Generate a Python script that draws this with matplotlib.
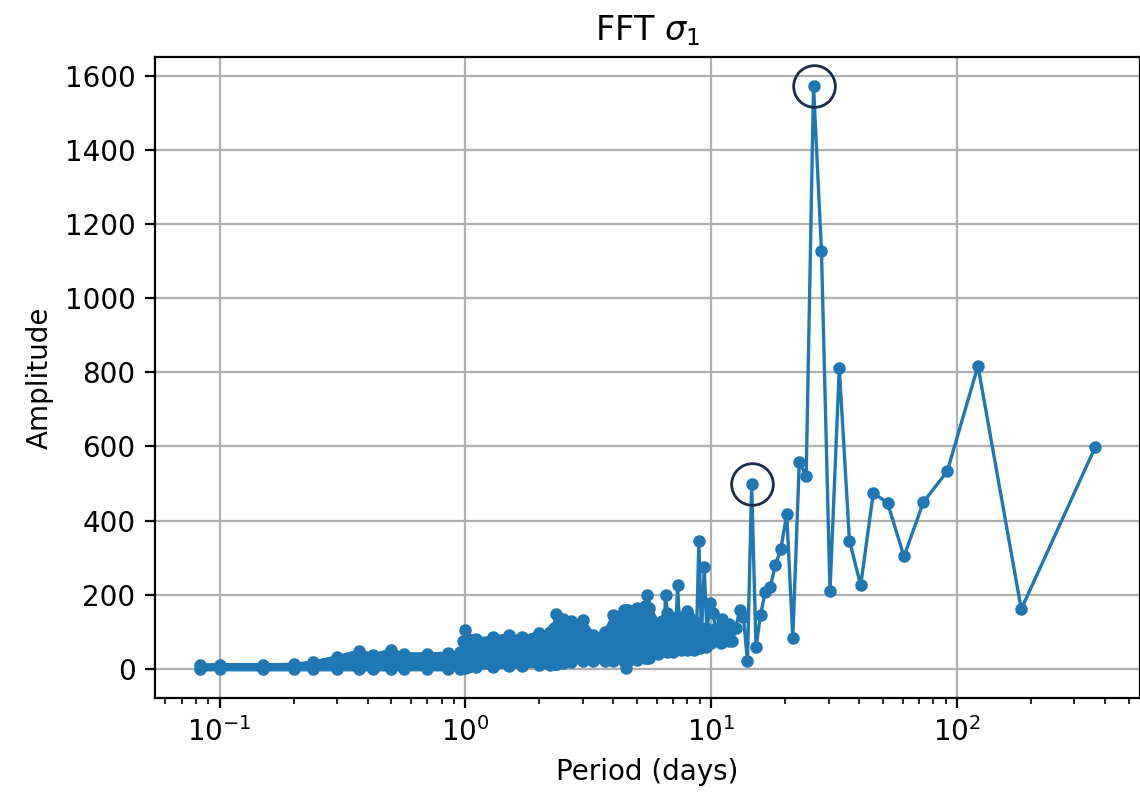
#!/usr/bin/env python3

import numpy as np
import matplotlib.pyplot as plt

# low harmonics of a one-year record: period = 365 / k days
harmonic = np.arange(1, 61)
amp_low_harm = [598, 161, 817, 533, 450, 303, 448, 474, 225, 346,
                812, 209, 1128, 1572, 520, 558, 83, 418, 324, 280,
                222, 208, 146, 58, 498, 21, 140, 158, 110, 74,
                120, 90, 135, 75, 110, 150, 177, 100, 274, 90,
                346, 60, 130, 80, 140, 155, 70, 120, 90, 225,
                100, 60, 140, 95, 150, 198, 80, 130, 60, 110]

band_period = [0.083, 0.1, 0.15, 0.2, 0.24, 0.3, 0.37, 0.42, 0.5, 0.56,
               0.7, 0.85, 0.95, 0.98, 1.0, 1.02, 1.1, 1.3, 1.5, 1.7,
               2.0, 2.2, 2.3, 2.33, 2.36, 2.5, 2.7, 3.0, 3.3, 3.7,
               4.0, 4.4, 4.5, 4.6, 5.0, 5.4, 5.5, 5.6, 6.1, 6.6,
               7.0, 7.5, 8.0, 8.5, 9.0, 9.5, 10.0, 11.0, 11.8]
band_high = [10, 11, 11, 12, 18, 32, 48, 38, 50, 40,
             40, 42, 45, 75, 105, 80, 80, 85, 92, 85,
             98, 100, 110, 148, 115, 135, 130, 132, 90, 100,
             145, 160, 160, 160, 165, 170, 200, 165, 120, 140,
             130, 140, 120, 110, 100, 110, 100, 110, 100]
band_low = [0, 0, 0, 0, 0, 0, 0, 0, 0, 0,
            0, 0, 0, 2, 2, 5, 5, 5, 8, 8,
            10, 10, 12, 12, 12, 15, 18, 20, 20, 20,
            22, 22, 3, 22, 25, 30, 30, 30, 40, 45,
            45, 50, 50, 50, 55, 60, 70, 70, 75]

# circled peaks (harmonics 14 and 25)
marked = [14, 25]


def main():
    period = 365.0 / harmonic
    color = "#1f77b4"

    fig = plt.figure(figsize=(5.7, 4.0), dpi=200)
    ax = fig.add_axes([0.136, 0.1275, 0.864, 0.8015])

    # dense band (kept above the grid like the line markers)
    ax.fill_between(band_period, band_low, band_high, facecolor=color,
                    edgecolor=color, lw=1.5, zorder=2)
    ax.plot(band_period, band_high, ".-", color=color, lw=1.2, ms=7)
    ax.plot(band_period, band_low, ".-", color=color, lw=1.2, ms=7)

    # resolved harmonics
    ax.plot(period, amp_low_harm, ".-", color=color, lw=1.2, ms=7)

    # circles around the two peaks
    for k in marked:
        ax.plot(365.0 / k, amp_low_harm[k - 1], "o", ms=15, mfc="none",
                mec="#1c2d4c", mew=1.0)

    ax.set_xscale("log")
    ax.set_title(r"FFT $\sigma_1$")
    ax.set_xlabel("Period (days)")
    ax.set_ylabel("Amplitude")
    ax.grid(True)

    fig.savefig("out.png", dpi=200)


if __name__ == "__main__":
    main()
